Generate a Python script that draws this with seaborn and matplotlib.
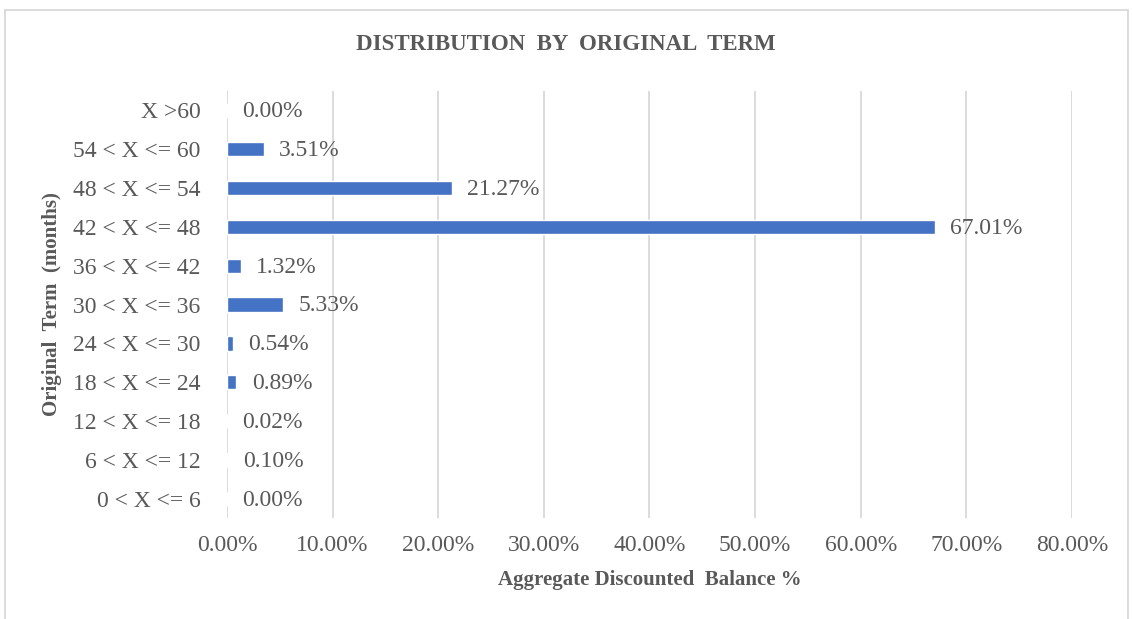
import numpy as np
import pandas as pd
import matplotlib.pyplot as plt
import seaborn as sns
from matplotlib.patches import Rectangle
from matplotlib.ticker import FuncFormatter

sns.set_style('white')
plt.rcParams['font.family'] = ['Liberation Serif', 'DejaVu Serif']

# data (top to bottom)
terms = ['X >60', '54 < X <= 60', '48 < X <= 54', '42 < X <= 48', '36 < X <= 42',
         '30 < X <= 36', '24 < X <= 30', '18 < X <= 24', '12 < X <= 18',
         '6 < X <= 12', '0 < X <= 6']
balance_pct = [0.00, 3.51, 21.27, 67.01, 1.32, 5.33, 0.54, 0.89, 0.02, 0.10, 0.00]
x_ticks = [0, 10, 20, 30, 40, 50, 60, 70, 80]

df = pd.DataFrame({'term': terms, 'pct': balance_pct})

grey = '#595959'
fig = plt.figure(figsize=(11.32, 6.19), dpi=100)
ax = fig.add_axes([0.2005, 0.163, 0.7465, 0.69])

sns.barplot(data=df, x='pct', y='term', order=terms, color='#4472C4',
            width=0.37, saturation=1, ax=ax, zorder=3)

ax.set_xlim(0, 80)
ax.set_xticks(x_ticks)
ax.xaxis.set_major_formatter(FuncFormatter(lambda v, p: '{:.2f}%'.format(v)))
ax.grid(axis='x', color='#D9D9D9', linewidth=1.3, zorder=0)
ax.grid(axis='y', visible=False)
for s in ax.spines.values():
    s.set_visible(False)
ax.tick_params(axis='x', length=0, pad=12, labelsize=17, labelcolor=grey)
ax.tick_params(axis='y', length=0, pad=19, labelsize=17, labelcolor=grey)

# value labels at bar ends
for i, v in enumerate(balance_pct):
    ax.annotate('{:.2f}%'.format(v), xy=(v, i), xytext=(11, -1),
                textcoords='offset points', ha='left', va='center',
                fontsize=17, color=grey)

fig.text(0.5, 1 - 45 / 619, 'DISTRIBUTION  BY  ORIGINAL  TERM', fontsize=16.5,
         fontweight='bold', color=grey, ha='center', va='center')
ax.set_xlabel('Aggregate Discounted  Balance %', fontsize=15, fontweight='bold',
              color=grey, labelpad=10)
ax.set_ylabel('Original  Term  (months)', fontsize=15, fontweight='bold',
              color=grey, labelpad=8)

# chart border
fig.patches.append(Rectangle((5 / 1132, -0.05), 1123 / 1132, 1.05 - 10 / 619,
                             transform=fig.transFigure, fill=False,
                             edgecolor='#D9D9D9', linewidth=1.3))

plt.savefig('out.png', dpi=100)
